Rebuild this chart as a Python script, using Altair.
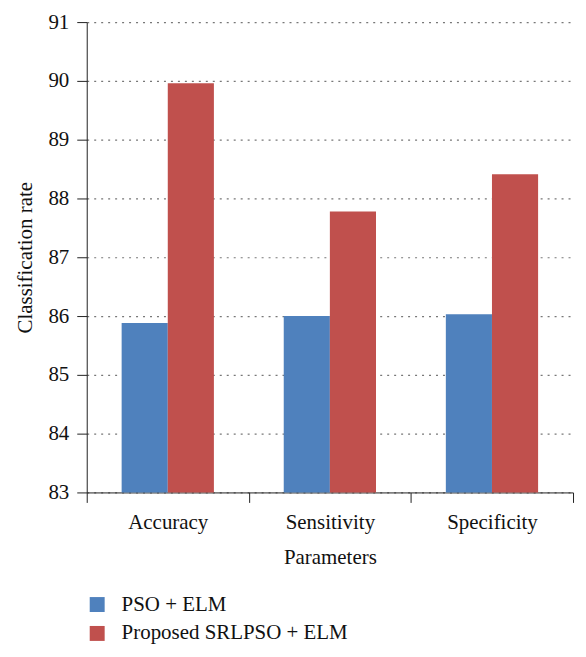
import altair as alt
import pandas as pd

categories = ["Accuracy", "Sensitivity", "Specificity"]
series = ["PSO + ELM", "Proposed SRLPSO + ELM"]
pso_elm = [85.88, 86.00, 86.03]
srlpso_elm = [89.96, 87.78, 88.41]
colors = ["#4F81BD", "#C0504D"]
y_ticks = [83, 84, 85, 86, 87, 88, 89, 90, 91]
y_base = 83

rows = []
for c, a, b in zip(categories, pso_elm, srlpso_elm):
    rows.append({"Parameter": c, "Method": series[0], "Value": a})
    rows.append({"Parameter": c, "Method": series[1], "Value": b})
df = pd.DataFrame(rows)

FONT = "Liberation Serif"

chart = alt.Chart(df).mark_bar().encode(
    x=alt.X("Parameter:N", sort=categories,
            scale=alt.Scale(paddingInner=0, paddingOuter=0),
            axis=alt.Axis(title="Parameters", labelAngle=0, tickBand="extent",
                          domainColor="#222", tickColor="#222", tickSize=10,
                          labelFont=FONT, titleFont=FONT,
                          labelFontSize=21, titleFontSize=21, labelPadding=9,
                          titlePadding=14, titleFontWeight="normal",
                          labelColor="#111", titleColor="#111", grid=False)),
    xOffset=alt.XOffset("Method:N", sort=series,
                        scale=alt.Scale(paddingInner=0, paddingOuter=0.757)),
    y=alt.Y("Value:Q",
            scale=alt.Scale(domain=[83, 91], zero=False, nice=False),
            axis=alt.Axis(title="Classification rate", values=y_ticks,
                          domainColor="#222", tickColor="#222", tickSize=10,
                          labelFont=FONT, titleFont=FONT,
                          labelFontSize=21, titleFontSize=21, labelPadding=8,
                          titlePadding=12, titleFontWeight="normal",
                          labelColor="#111", titleColor="#111",
                          grid=True, gridDash=[2, 5], gridColor="#777",
                          gridWidth=1.2)),
    y2=alt.Y2(datum=y_base),
    color=alt.Color("Method:N", sort=series,
                    scale=alt.Scale(domain=series, range=colors),
                    legend=alt.Legend(title=None, orient="none", legendX=0,
                                      legendY=574, direction="vertical",
                                      symbolType="square", symbolSize=225,
                                      symbolStrokeWidth=0, symbolOpacity=1,
                                      labelFontSize=21, labelOffset=14,
                                      labelLimit=400,
                                      rowPadding=7, labelColor="#111",
                                      labelFont=FONT)),
).properties(
    width=488, height=472,
    autosize=alt.AutoSizeParams(type="none"),
    padding={"left": 79, "top": 13, "right": 5, "bottom": 162},
).configure_axis(
    labelFont=FONT, titleFont=FONT
).configure_legend(
    labelFont=FONT
).configure_view(stroke=None)

chart.save("out.html", embed_options={"renderer": "svg", "actions": False})
